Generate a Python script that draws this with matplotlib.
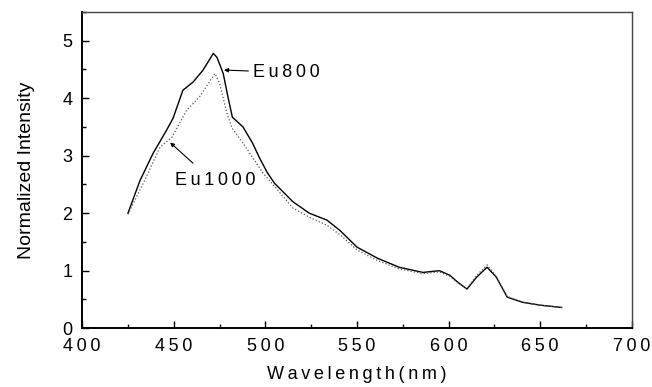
import matplotlib.pyplot as plt
from matplotlib.ticker import MultipleLocator

plt.rcParams['font.family'] = ['Liberation Sans', 'DejaVu Sans']

# values
wl_800 = [425, 431.6, 438.7, 446, 449.6, 455, 460.5, 466, 471.6, 473.6, 477, 479.6,
          482, 487.8, 493, 497, 501, 505, 515, 524, 533.6, 540.7, 550, 561, 573,
          586, 595, 600.7, 605, 610, 615.4, 621, 626, 632, 640.5, 650, 656, 661.7]
int_800 = [2.00, 2.57, 3.04, 3.44, 3.65, 4.14, 4.28, 4.49, 4.78, 4.71, 4.43, 4.02,
           3.67, 3.50, 3.22, 2.95, 2.71, 2.52, 2.20, 2.00, 1.88, 1.70, 1.41, 1.22, 1.06,
           0.97, 1.00, 0.92, 0.80, 0.68, 0.89, 1.06, 0.89, 0.54, 0.45, 0.40, 0.38, 0.36]

wl_1000 = [425, 435, 442.5, 449, 457, 464, 470, 472.5, 475, 479, 481.8, 487.8, 493,
           498.7, 506, 515, 524, 533.6, 541, 550, 561, 573, 586, 595, 600.7, 605,
           610, 615.4, 621, 626, 632, 640.5, 650, 656, 661.7]
int_1000 = [1.98, 2.63, 3.15, 3.32, 3.79, 4.02, 4.31, 4.43, 4.26, 3.74, 3.48, 3.22, 2.97,
            2.70, 2.43, 2.09, 1.93, 1.79, 1.62, 1.36, 1.18, 1.03, 0.95, 0.98, 0.90, 0.79,
            0.68, 0.92, 1.10, 0.90, 0.55, 0.45, 0.40, 0.38, 0.36]

x_ticks = [400, 450, 500, 550, 600, 650, 700]
y_ticks = [0, 1, 2, 3, 4, 5]

sp = '\u2009'  # thin space, the original text is letter spaced


def spaced(s):
    return sp.join(s)


fig = plt.figure(figsize=(6.52, 3.87), dpi=100)
ax = fig.add_axes([0.126, 0.152, 0.843, 0.817])

ax.plot(wl_800, int_800, color='black', linewidth=1.0)
ax.plot(wl_1000, int_1000, color='#555555', linewidth=0.9, linestyle=':')

ax.set_xlim(400, 700)
ax.set_ylim(0, 5.5)
ax.set_xticks(x_ticks)
ax.set_xticklabels([spaced(str(t)) for t in x_ticks], fontsize=13)
ax.set_yticks(y_ticks)
ax.set_yticklabels([str(t) for t in y_ticks], fontsize=13)
ax.xaxis.set_minor_locator(MultipleLocator(25))
ax.yaxis.set_minor_locator(MultipleLocator(0.5))
ax.tick_params(which='both', direction='in', top=False, right=False, width=1)
ax.tick_params(which='major', length=5)
ax.tick_params(which='minor', length=3)
ax.tick_params(axis='x', which='major', pad=7)
ax.tick_params(axis='y', which='major', pad=7)

for s in ax.spines.values():
    s.set_linewidth(1.0)
ax.spines['top'].set_color('#444444')
ax.spines['right'].set_color('#444444')
ax.spines['bottom'].set_linewidth(1.4)
ax.spines['left'].set_linewidth(1.4)

ax.set_xlabel(spaced('Wavelength(nm)'), fontsize=13, labelpad=8)
ax.set_ylabel('Normalized Intensity', fontsize=14, labelpad=20)

ax.annotate(spaced('Eu800'), xy=(477.4, 4.49), xytext=(493, 4.45),
            fontsize=13, va='center', ha='left',
            arrowprops=dict(arrowstyle='-|>', color='black', lw=0.8,
                            mutation_scale=6, shrinkA=1, shrinkB=0))
ax.annotate(spaced('Eu1000'), xy=(448, 3.23), xytext=(450.7, 2.57),
            fontsize=13, va='center', ha='left')
ax.annotate('', xy=(448, 3.23), xytext=(460.5, 2.87),
            arrowprops=dict(arrowstyle='-|>', color='black', lw=0.8,
                            mutation_scale=6, shrinkA=0, shrinkB=0))

fig.savefig('out.png', dpi=100)
